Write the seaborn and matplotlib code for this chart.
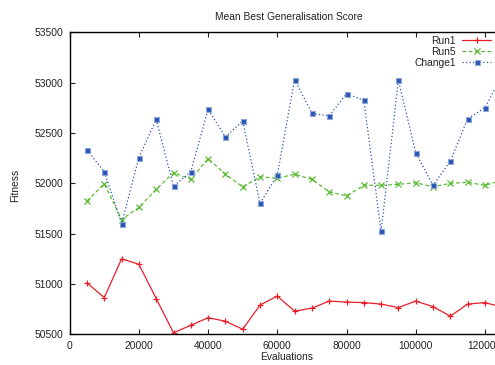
import numpy as np
import pandas as pd
import matplotlib
matplotlib.use("Agg")
import matplotlib.pyplot as plt
import seaborn as sns

# Evaluations (x axis)
evaluations = [5000, 10000, 15000, 20000, 25000, 30000, 35000, 40000, 45000, 50000,
               55000, 60000, 65000, 70000, 75000, 80000, 85000, 90000, 95000, 100000,
               105000, 110000, 115000, 120000, 125000]

# Fitness values
run1 = [51010, 50865, 51250, 51195, 50855, 50515, 50590, 50665, 50630, 50550,
        50790, 50880, 50730, 50760, 50830, 50820, 50815, 50800, 50765, 50830,
        50775, 50680, 50800, 50815, 50770]
run5 = [51825, 51995, 51640, 51760, 51940, 52105, 52040, 52245, 52090, 51965,
        52065, 52050, 52090, 52040, 51915, 51875, 51980, 51980, 51990, 52005,
        51965, 52000, 52010, 51980, 52030]
change1 = [52330, 52115, 51600, 52255, 52635, 51970, 52115, 52735, 52460, 52620,
           51800, 52080, 53030, 52695, 52670, 52890, 52825, 51525, 53025, 52305,
           51980, 52220, 52640, 52750, 53070]

series_names = ["Run1", "Run5", "Change1"]

df = pd.DataFrame({
    "Evaluations": evaluations * 3,
    "Fitness": run1 + run5 + change1,
    "Series": np.repeat(series_names, len(evaluations)),
})

sns.set_style("ticks")
plt.rcParams["font.family"] = ["Liberation Sans", "DejaVu Sans"]
plt.rcParams["font.size"] = 7.4

W, H = 495, 365
fig = plt.figure(figsize=(W / 100, H / 100), dpi=100)
# plot area runs past the right edge of the picture, like the cropped original
left, right, top, bottom = 69.7, 519.5, 32.3, 334.3
ax = fig.add_axes([left / W, 1 - bottom / H, (right - left) / W, (bottom - top) / H])

styles = {
    "Run1": dict(color="#e8202a", marker="+", markersize=5, markeredgewidth=0.9,
                 markeredgecolor="#e8202a", linestyle="-", linewidth=0.9),
    "Run5": dict(color="#5cbb35", marker="x", markersize=4, markeredgewidth=0.9,
                 markeredgecolor="#5cbb35", linestyle=(0, (3, 2)), linewidth=0.9),
    "Change1": dict(color="#2a55b0", marker="s", markersize=3.6, markeredgewidth=0.8,
                    markeredgecolor="#8ea6dc", markerfacecolor="#2a55b0",
                    linestyle=(0, (1, 1.8)), linewidth=0.9),
}

for name in series_names:
    sub = df[df["Series"] == name]
    sns.lineplot(data=sub, x="Evaluations", y="Fitness", ax=ax, label=name,
                 **styles[name])

ax.set_xlim(0, 130000)
ax.set_ylim(50500, 53500)
ax.set_xticks(np.arange(0, 130001, 20000))
ax.set_yticks(np.arange(50500, 53501, 500))
ax.tick_params(direction="in", top=True, right=True, length=3.5, width=0.8,
               labelsize=7.4, colors="#222222", pad=4.5)
for sp in ax.spines.values():
    sp.set_linewidth(1.0)
    sp.set_color("black")
ax.set_xlabel("")
ax.set_ylabel("")

fig.text(289 / W, 1 - 17.5 / H, "Mean Best Generalisation Score", ha="center",
         va="center", fontsize=7.4, color="#222222")
fig.text(286.4 / W, 1 - 357.3 / H, "Evaluations", ha="center", va="center",
         fontsize=7.4, color="#222222")
fig.text(15.5 / W, 1 - 185 / H, "Fitness", ha="center", va="center",
         rotation=90, fontsize=7.4, color="#222222")

leg = ax.legend(loc="upper right", bbox_to_anchor=(491 / W, 1 - 35.5 / H),
                bbox_transform=fig.transFigure, frameon=False, markerfirst=False,
                handlelength=2.8, handletextpad=0.6, labelspacing=0.1,
                borderaxespad=0, borderpad=0, fontsize=7.4)
for t in leg.get_texts():
    t.set_color("#222222")

fig.savefig("out.png", dpi=100)
